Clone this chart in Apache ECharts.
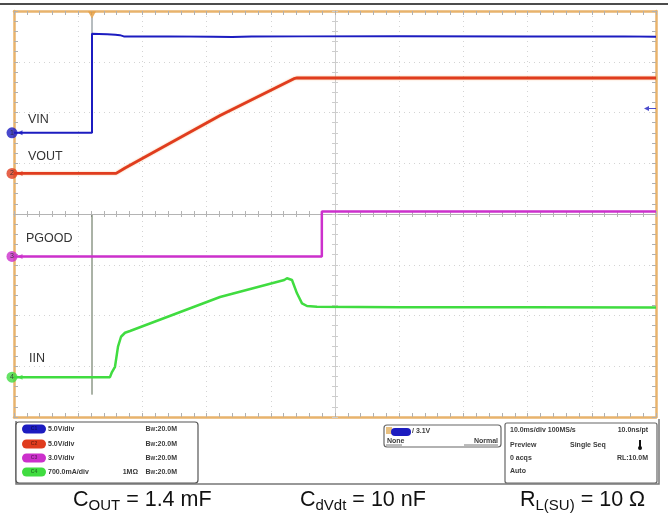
<!DOCTYPE html>
<html><head><meta charset="utf-8">
<script src="https://cdn.jsdelivr.net/npm/echarts@6/dist/echarts.min.js"></script>
<style>html,body{margin:0;padding:0;background:#fff}#c{width:668px;height:516px}</style>
</head><body><div id="c"></div>
<script>
// ---- data (time in ms, screen centre = 0, 10 ms/div) ----
const timeRange = [-50, 50];
const divRange = [-4, 4];
const triggerTime = -37.85;
const triggerLevel = 2.4;           // V on CH1 (VIN)
// per-channel vertical ranges (screen = 8 div)
const vinRange = [-28, 12];         // 5.0 V/div
const voutRange = [-24, 16];        // 5.0 V/div
const pgoodRange = [-9.45, 14.45];  // 3.0 V/div
const iinRange = [-0.55, 5.05];     // 700 mA/div (A)

const vinData = [[-50,0],[-37.85,0],[-37.85,9.75],[-36.8,9.74],[-35.5,9.7],[-34.2,9.66],[-33.5,9.62],[-32.9,9.5],[-26,9.5],[-19,9.47],[-16,9.44],[-13,9.48],[-5,9.5],[10,9.52],[30,9.5],[45,9.5],[50,9.47]];
const voutData = [[-50,0],[-34.1,0],[-32.7,0.53],[-17.9,5.7],[-6.4,9.33],[-5.9,9.4],[50,9.4]];
const pgoodData = [[-50,0],[-2.05,0],[-2.05,2.65],[50,2.65]];
const iinData = [[-50,0],[-35.05,0],[-34.74,0.07],[-34.27,0.143],[-33.8,0.42],[-33.33,0.557],[-32.71,0.612],[-31.93,0.636],[-17.91,1.105],[-7.9,1.34],[-7.48,1.363],[-6.7,1.34],[-5.92,1.156],[-5.14,1.018],[-4.36,0.981],[-2.8,0.971],[10,0.965],[30,0.965],[50,0.96]];
const triggerLineTop = [[triggerTime,3.88],[triggerTime,1.6]];
const triggerLineBottom = [[triggerTime,-0.02],[triggerTime,-3.56]];

const channelNames = ['VIN','VOUT','PGOOD','IIN'];
const channelColors = ['#1c1cc0','#e03c1e','#cc30cc','#40dc40'];
const scaleTexts = ['5.0V/div','5.0V/div','3.0V/div','700.0mA/div'];
const captions = [['C','OUT',' = 1.4 mF'],['C','dVdt',' = 10 nF'],['R','L(SU)',' = 10 Ω']];

const FONT = "'Liberation Sans', Arial, sans-serif";
const ORANGE = '#e8b36c';

function frameAxis(pos, extra) {
  return Object.assign({
    type:'value', position:pos, gridIndex:0,
    axisLine:{show:true, onZero:false, lineStyle:{color:ORANGE, width:2.5}},
    axisTick:{show:true, inside:true, length:4, lineStyle:{color:'#b0b0b0', width:1}},
    minorTick:{show:true, splitNumber:5, length:4, lineStyle:{color:'#b0b0b0', width:1}},
    axisLabel:{show:false}, splitLine:{show:false}
  }, extra);
}
function centreAxis(pos, inside, idx, col, extra) {
  return Object.assign({
    type:'value', position:pos, gridIndex:0,
    axisLine:{show:true, onZero:true, onZeroAxisIndex:idx, lineStyle:{color:col, width:1}},
    axisTick:{show:true, inside:inside, length:3, lineStyle:{color:col}},
    minorTick:{show:true, splitNumber:5, length:3, lineStyle:{color:col}},
    axisLabel:{show:false}, splitLine:{show:false}
  }, extra);
}
const xr = {min:timeRange[0], max:timeRange[1], interval:10};
const yr = {min:divRange[0], max:divRange[1], interval:1};
const gridSplit = {show:true, lineStyle:{color:'#d4d4d4', width:1, type:[1,4]}};

const hiddenY = r => ({type:'value', min:r[0], max:r[1], show:false, gridIndex:0});

const series = [
  {type:'line', data:triggerLineTop, xAxisIndex:0, yAxisIndex:0, symbol:'none', lineStyle:{color:'#6e7a80', width:1}, silent:true, z:3},
  {type:'line', data:triggerLineBottom, xAxisIndex:0, yAxisIndex:0, symbol:'none', lineStyle:{color:'#56664e', width:1}, silent:true, z:3},
  {type:'line', data:iinData, xAxisIndex:0, yAxisIndex:7, symbol:'none', lineStyle:{color:channelColors[3], width:2.5}, silent:true, z:4},
  {type:'line', data:pgoodData, xAxisIndex:0, yAxisIndex:6, symbol:'none', lineStyle:{color:channelColors[2], width:2.5}, silent:true, z:4},
  {type:'line', data:voutData, xAxisIndex:0, yAxisIndex:5, symbol:'none', lineStyle:{color:channelColors[1], width:2.8, shadowColor:'rgba(240,140,60,0.6)', shadowBlur:2}, silent:true, z:4},
  {type:'line', data:vinData, xAxisIndex:0, yAxisIndex:4, symbol:'none', lineStyle:{color:channelColors[0], width:2}, silent:true, z:4},
  // trigger position marker
  {type:'scatter', data:[[triggerTime, 3.92]], xAxisIndex:0, yAxisIndex:0, symbol:'triangle', symbolRotate:180, symbolSize:[8,7], itemStyle:{color:'#e39a3a'}, clip:false, silent:true, z:6},
  // trigger level arrow (right edge)
  {type:'scatter', data:[[timeRange[1], triggerLevel]], xAxisIndex:0, yAxisIndex:4, symbol:'path://M0,3 L5,0 L5,2.4 L12,2.4 L12,3.6 L5,3.6 L5,6 Z', symbolKeepAspect:false, symbolSize:[12,5], symbolOffset:[-6,0], itemStyle:{color:'#2020c0'}, clip:false, silent:true, z:6}
];
// channel ground markers
[vinRange, voutRange, pgoodRange, iinRange].forEach((r, i) => {
  series.push({type:'scatter', data:[[timeRange[0], 0]], xAxisIndex:0, yAxisIndex:4+i, symbol:'circle', symbolSize:11, symbolOffset:[-2,0],
    itemStyle:{color:channelColors[i]}, label:{show:true, position:'inside', formatter:String(i+1), fontSize:7, color:'#222', fontFamily:FONT}, clip:false, silent:true, z:7});
  series.push({type:'scatter', data:[[timeRange[0], 0]], xAxisIndex:0, yAxisIndex:4+i, symbol:'triangle', symbolRotate:90, symbolSize:[5,5], symbolOffset:[6,0],
    itemStyle:{color:channelColors[i]}, clip:false, silent:true, z:7});
});

// ---- graphics (labels, status panel, captions) ----
const graphic = [];
graphic.push({type:'line', shape:{x1:0, y1:4, x2:668, y2:4}, style:{stroke:'#111', lineWidth:1.5}});
const labelPos = [[28,120],[28,157],[26,239],[29,359]];
channelNames.forEach((n,i) => graphic.push({type:'text', x:labelPos[i][0], y:labelPos[i][1], style:{text:n, fontSize:12.5, fontFamily:FONT, fill:'#333', align:'left', verticalAlign:'middle'}}));

// status panel frame
graphic.push({type:'polyline', shape:{points:[[16,421],[16,484],[659,484],[659,419]]}, style:{stroke:'#777', lineWidth:1.5, fill:null}});
graphic.push({type:'rect', shape:{x:16, y:422, width:182, height:61, r:3}, style:{stroke:'#555', lineWidth:1.2, fill:'#fff'}});
graphic.push({type:'rect', shape:{x:384, y:425, width:117, height:22, r:3}, style:{stroke:'#666', lineWidth:1.2, fill:'#fff'}});
graphic.push({type:'rect', shape:{x:505, y:423, width:152, height:60, r:2}, style:{stroke:'#666', lineWidth:1.2, fill:'#fff'}});
const small = {fontSize:7, fontWeight:'bold', fontFamily:FONT, fill:'#3a3a3a', verticalAlign:'middle'};
const rowY = [429, 444, 458, 472];
scaleTexts.forEach((t,i) => {
  graphic.push({type:'rect', shape:{x:22, y:rowY[i]-4.5, width:24, height:9, r:4.5}, style:{fill:channelColors[i]}});
  graphic.push({type:'text', x:34, y:rowY[i], style:Object.assign({}, small, {text:'C'+(i+1), fontSize:5, fill:'rgba(0,0,0,0.45)', align:'center'})});
  graphic.push({type:'text', x:48, y:rowY[i], style:Object.assign({}, small, {text:t, align:'left'})});
  graphic.push({type:'text', x:177, y:rowY[i], style:Object.assign({}, small, {align:'right', text:'{a|B}{b|W}{a|:20.0M}',
    rich:{a:{fontSize:7, fontWeight:'bold', fontFamily:FONT, fill:'#3a3a3a'}, b:{fontSize:5, fontWeight:'bold', fontFamily:FONT, fill:'#3a3a3a', verticalAlign:'bottom', lineHeight:6}}})});
});
graphic.push({type:'text', x:138, y:rowY[3], style:Object.assign({}, small, {text:'1MΩ', align:'right'})});
// trigger box
graphic.push({type:'rect', shape:{x:386, y:427, width:6, height:7}, style:{fill:'#e8c080'}});
graphic.push({type:'rect', shape:{x:391, y:428, width:20, height:8, r:4}, style:{fill:channelColors[0]}});
graphic.push({type:'text', x:412, y:431, style:Object.assign({}, small, {text:'/ 3.1V', align:'left'})});
graphic.push({type:'text', x:387, y:441, style:Object.assign({}, small, {text:'None', align:'left'})});
graphic.push({type:'text', x:498, y:441, style:Object.assign({}, small, {text:'Normal', align:'right'})});
graphic.push({type:'line', shape:{x1:386, y1:445, x2:402, y2:445}, style:{stroke:'#555', lineWidth:0.8}});
graphic.push({type:'line', shape:{x1:464, y1:445, x2:498, y2:445}, style:{stroke:'#555', lineWidth:0.8}});
// acquisition box
graphic.push({type:'text', x:510, y:430, style:Object.assign({}, small, {text:'10.0ms/div 100MS/s', align:'left'})});
graphic.push({type:'text', x:648, y:430, style:Object.assign({}, small, {text:'10.0ns/pt', align:'right'})});
graphic.push({type:'text', x:510, y:445, style:Object.assign({}, small, {text:'Preview', align:'left'})});
graphic.push({type:'text', x:570, y:445, style:Object.assign({}, small, {text:'Single Seq', align:'left'})});
graphic.push({type:'rect', shape:{x:639, y:440, width:2, height:8}, style:{fill:'#111'}});
graphic.push({type:'circle', shape:{cx:640, cy:448, r:2}, style:{fill:'#111'}});
graphic.push({type:'text', x:510, y:458, style:Object.assign({}, small, {text:'0 acqs', align:'left'})});
graphic.push({type:'text', x:648, y:458, style:Object.assign({}, small, {text:'RL:10.0M', align:'right'})});
graphic.push({type:'text', x:510, y:471, style:Object.assign({}, small, {text:'Auto', align:'left'})});

// captions
const capX = [73, 300, 520];
captions.forEach((c,i) => graphic.push({type:'text', x:capX[i], y:500, style:{
  text:'{m|'+c[0]+'}{s|'+c[1]+'}{m|'+c[2]+'}', align:'left', verticalAlign:'middle',
  rich:{m:{fontSize:21.5, lineHeight:26, fontFamily:FONT, fill:'#111'}, s:{fontSize:15, lineHeight:13, verticalAlign:'bottom', fontFamily:FONT, fill:'#111'}}}}));

const option = {
  animation:false,
  backgroundColor:'#fff',
  grid:{left:14, top:11, right:12, bottom:99, containLabel:false, show:true, backgroundColor:'#fff', borderWidth:0},
  xAxis:[
    frameAxis('bottom', Object.assign({}, xr, {splitLine:gridSplit})),
    frameAxis('top', xr),
    centreAxis('bottom', true, 0, '#b4b4b4', xr),
    centreAxis('bottom', false, 0, '#b4b4b4', xr)
  ],
  yAxis:[
    frameAxis('left', Object.assign({}, yr, {splitLine:gridSplit})),
    frameAxis('right', yr),
    centreAxis('left', true, 0, '#cdcdcd', yr),
    centreAxis('left', false, 0, '#cdcdcd', yr),
    hiddenY(vinRange), hiddenY(voutRange), hiddenY(pgoodRange), hiddenY(iinRange)
  ],
  series:series,
  graphic:graphic
};
const chart = echarts.init(document.getElementById('c'), null, {renderer:'canvas'});
chart.setOption(option);
</script></body></html>
